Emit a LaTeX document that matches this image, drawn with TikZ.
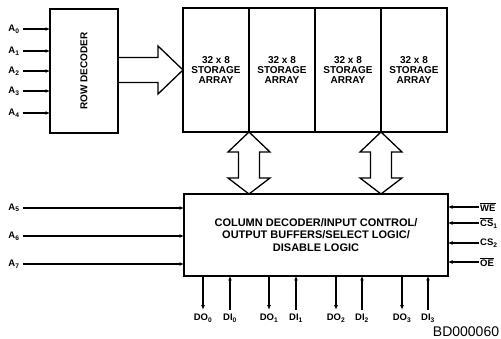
\documentclass[tikz,border=0pt]{standalone}
\usepackage{fontspec}
\setsansfont{Liberation Sans}
\usetikzlibrary{arrows.meta,calc,positioning,backgrounds}
\newcommand{\pinfont}{\fontsize{9.5}{10}\selectfont\sffamily\bfseries}
\newcommand{\boxfont}{\fontsize{10}{10}\selectfont\sffamily\bfseries}
\newcommand{\activelow}[1]{$\overline{\mbox{#1}}$}
\tikzset{
 every node/.append style={font=\pinfont,text=black,align=center},
 block/.style={draw,line width=1.6pt,inner sep=0pt,outer sep=0pt,font=\boxfont},
 array/.style={block,minimum width=66pt,minimum height=124pt},
 pin/.style={inner sep=1pt},
 wire/.style={line width=1.2pt,-{Latex[length=4.5pt,width=4pt]}},
 fat/.style={draw,line width=1.3pt,fill=white,line join=miter},
}
\newcommand{\busarrow}[2]{% #1 top tip, #2 bottom tip
  \draw[fat] (#1) -- ($(#1)+(21,20)$) -- ($(#1)+(10.5,20)$) -- ($(#2)+(10.5,-16)$)
    -- ($(#2)+(21,-16)$) -- (#2) -- ($(#2)+(-21,-16)$) -- ($(#2)+(-10.5,-16)$)
    -- ($(#1)+(-10.5,20)$) -- ($(#1)+(-21,20)$) -- cycle;}

\begin{document}
\begin{tikzpicture}[x=1pt,y=-1pt]
\useasboundingbox (0,0) rectangle (501,339);

% blocks
\node[block,minimum width=68pt,minimum height=124pt] (rowdec) at (84,71)
  {\rotatebox{90}{ROW DECODER}};
\node[array] (sa1) at (216,70) {32 x 8\\STORAGE\\ARRAY};
\node[array,right=0pt of sa1] (sa2) {32 x 8\\STORAGE\\ARRAY};
\node[array,right=0pt of sa2] (sa3) {32 x 8\\STORAGE\\ARRAY};
\node[array,right=0pt of sa3] (sa4) {32 x 8\\STORAGE\\ARRAY};
\node[block,minimum width=264pt,minimum height=82pt,font=\fontsize{11}{12.5}\selectfont\sffamily\bfseries]
  (colbox) at (316,235)
  {COLUMN DECODER/INPUT CONTROL/\\OUTPUT BUFFERS/SELECT LOGIC/\\DISABLE LOGIC};

% wide buses
\begin{scope}[on background layer]
\coordinate (rtip) at (sa1.west);
\draw[fat] ($(rowdec.east |- rtip)+(0,-12.5)$) -- ($(rtip)+(-25,-12.5)$) -- ($(rtip)+(-25,-24)$)
  -- (rtip) -- ($(rtip)+(-25,24)$) -- ($(rtip)+(-25,12.5)$) -- ($(rowdec.east |- rtip)+(0,12.5)$);
\coordinate (t1) at (sa1.south east);
\coordinate (b1) at (t1 |- colbox.north);
\coordinate (t3) at (sa3.south east);
\coordinate (b3) at (t3 |- colbox.north);
\busarrow{t1}{b1}
\busarrow{t3}{b3}
\end{scope}

% row address inputs
\foreach \i/\y in {0/29,1/51,2/71,3/91,4/113}{
  \node[pin] (a\i) at (14,\y) {A\textsubscript{\i}};
  \draw[wire] (a\i.east) ++(2,0) -- (a\i -| rowdec.west);
}
% column address inputs
\foreach \i/\y in {5/208,6/236,7/264}{
  \node[pin] (a\i) at (14,\y) {A\textsubscript{\i}};
  \draw[wire] (a\i.east) ++(2,0) -- (a\i -| colbox.west);
}

% control inputs
\node[pin,anchor=west] (we) at (479,207) {\activelow{WE}};
\node[pin,anchor=west] (cs1) at (479,223) {\activelow{CS}\textsubscript{1}};
\node[pin,anchor=west] (cs2) at (479,243) {CS\textsubscript{2}};
\node[pin,anchor=west] (oe) at (479,262) {\activelow{OE}};
\foreach \s in {we,cs1,cs2,oe}
  \draw[wire] (\s.west) -- (\s -| colbox.east);

% data out / data in
\foreach \i/\x in {0/203,1/269,2/336,3/402}{
  \node[pin] (do\i) at (\x,318) {DO\textsubscript{\i}};
  \draw[wire] (do\i |- colbox.south) -- ($(do\i.north)+(0,-3)$);
}
\foreach \i/\x in {0/230,1/296,2/362,3/428}{
  \node[pin] (di\i) at (\x,318) {DI\textsubscript{\i}};
  \draw[wire] ($(di\i.north)+(0,-3)$) -- (di\i |- colbox.south);
}

\node[font=\fontsize{14}{16}\selectfont\sffamily] (code) at (466,332) {BD000060};
\end{tikzpicture}
\end{document}
